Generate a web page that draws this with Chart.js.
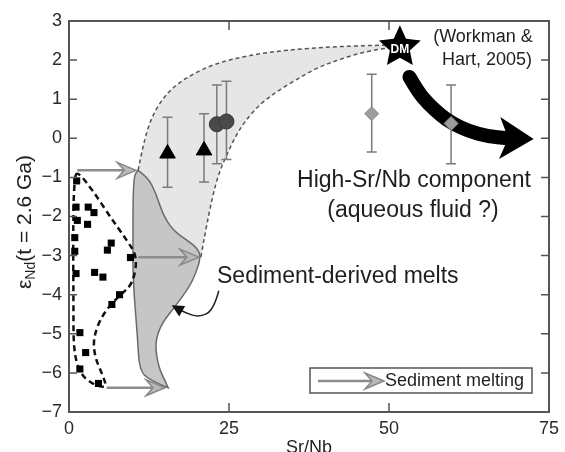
<!DOCTYPE html>
<html>
<head>
<meta charset="utf-8">
<script src="https://cdn.jsdelivr.net/npm/chart.js@4.4.0/dist/chart.umd.min.js"></script>
<style>
html, body { margin: 0; padding: 0; background: #fff; }
canvas { display: block; }
</style>
</head>
<body>
<canvas id="nd-chart" width="565" height="452"></canvas>
<script>
// axis ticks
var xTicks = [0, 25, 50, 75];
var yTicks = [-7, -6, -5, -4, -3, -2, -1, 0, 1, 2, 3];

// sediment samples (black squares)
var sedimentX = [1.2, 1.1, 3.0, 3.9, 1.3, 2.9, 0.9, 6.6, 6.0, 0.9, 9.6, 1.1, 4.0, 5.3, 7.9, 6.7, 1.7, 2.6, 1.7, 4.6];
var sedimentY = [-1.09, -1.76, -1.76, -1.9, -2.1, -2.2, -2.54, -2.68, -2.86, -2.89, -3.05, -3.46, -3.43, -3.55, -4.0, -4.25, -4.97, -5.48, -5.9, -6.27];

// basalt groups with error bars
var triangleX = [15.4, 21.1];
var triangleY = [-0.39, -0.31];
var triangleHi = [0.54, 0.63];
var triangleLo = [-1.25, -1.12];

var circleX = [23.1, 24.6];
var circleY = [0.36, 0.43];
var circleHi = [1.36, 1.46];
var circleLo = [-0.65, -0.54];

var diamondX = [47.3, 59.7];
var diamondY = [0.63, 0.38];
var diamondHi = [1.64, 1.36];
var diamondLo = [-0.35, -0.65];

// depleted mantle end member
var dmPoint = [51.7, 2.33];

// mixing envelope (dashed)
var upperEnvelope = [[10.8, -0.82], [11.6, -0.15], [12.7, 0.45], [14.2, 0.92], [16.2, 1.3], [19, 1.62], [23, 1.92], [28, 2.12], [34, 2.26], [41, 2.34], [48, 2.38], [51, 2.38]];
var lowerEnvelope = [[20.6, -3.04], [21.3, -2.4], [22.4, -1.5], [23.4, -0.9], [24.5, -0.48], [26, 0.05], [27.6, 0.46], [30, 0.9], [32.8, 1.23], [36, 1.55], [39, 1.82], [42, 2.0], [45.2, 2.17], [48.5, 2.28], [51, 2.33]];

// sediment-derived melt field
var meltRightEdge = [[10.8, -0.82], [12.3, -0.99], [13.6, -1.41], [14.6, -1.93], [16.2, -2.35], [18.5, -2.61], [20.1, -2.82], [20.6, -3.04], [19.8, -3.46], [18.8, -3.8], [16.6, -4.3], [14.4, -4.75], [13.4, -5.25], [14.0, -5.85], [15.0, -6.2], [15.5, -6.38]];
var meltLeftEdge = [[15.5, -6.38], [12.6, -6.19], [11.0, -5.93], [10.7, -5.08], [10.2, -4.06], [10.0, -3.38], [10.0, -3.1], [10.0, -0.99], [10.8, -0.82]];

// sediment field outline
var sedimentOutline = [[1.2, -0.82], [3.7, -1.33], [6.4, -2.0], [9.0, -2.6], [10.7, -3.03], [10.0, -3.72], [7.9, -4.02], [5.3, -4.48], [3.8, -5.08], [4.0, -5.59], [5.6, -6.19], [5.8, -6.38], [3.8, -6.3], [1.7, -6.02], [0.7, -5.42], [0.7, -4.23], [0.65, -2.86], [0.7, -1.59], [0.9, -1.07]];

// sediment melting arrows [x0, x1, y]
var meltingArrows = [[1.3, 10.5, -0.82], [10.8, 20.3, -3.04], [5.9, 15.0, -6.38]];

// high-Sr/Nb trend arrow
var fluidArrow = [[53.2, 1.57], [54.5, 1.2], [56.1, 0.89], [58, 0.6], [59.7, 0.4], [62.5, 0.18], [65.4, 0.05], [68.5, 0.0]];
var fluidArrowTip = [72.6, -0.02];

// label pointer
var pointerLine = [[23.4, -3.9], [22.6, -4.4], [20.3, -4.58], [18, -4.45], [16.6, -4.32]];

var FONT = '"Liberation Sans", Arial, sans-serif';

function toPx(chart, p) {
    return [chart.scales.x.getPixelForValue(p[0]), chart.scales.y.getPixelForValue(p[1])];
}

function smoothPath(ctx, pts, join) {
    if (join) ctx.lineTo(pts[0][0], pts[0][1]);
    else ctx.moveTo(pts[0][0], pts[0][1]);
    for (var i = 1; i < pts.length - 1; i++) {
        var mx = (pts[i][0] + pts[i + 1][0]) / 2;
        var my = (pts[i][1] + pts[i + 1][1]) / 2;
        ctx.quadraticCurveTo(pts[i][0], pts[i][1], mx, my);
    }
    var last = pts[pts.length - 1];
    ctx.lineTo(last[0], last[1]);
}

function closedSmooth(ctx, pts) {
    var n = pts.length;
    ctx.moveTo((pts[n - 1][0] + pts[0][0]) / 2, (pts[n - 1][1] + pts[0][1]) / 2);
    for (var i = 0; i < n; i++) {
        var nx = pts[(i + 1) % n];
        ctx.quadraticCurveTo(pts[i][0], pts[i][1], (pts[i][0] + nx[0]) / 2, (pts[i][1] + nx[1]) / 2);
    }
    ctx.closePath();
}

function greyArrow(ctx, x0, x1, y) {
    ctx.save();
    ctx.strokeStyle = "#8c8c8c";
    ctx.lineWidth = 2.5;
    ctx.beginPath();
    ctx.moveTo(x0, y);
    ctx.lineTo(x1 - 10, y);
    ctx.stroke();
    ctx.beginPath();
    ctx.moveTo(x1, y);
    ctx.lineTo(x1 - 19, y - 8);
    ctx.lineTo(x1 - 12, y);
    ctx.lineTo(x1 - 19, y + 8);
    ctx.closePath();
    ctx.fillStyle = "#b8b8b8";
    ctx.fill();
    ctx.lineWidth = 1.5;
    ctx.strokeStyle = "#888";
    ctx.stroke();
    ctx.restore();
}

function drawErrorBars(chart, xs, ys, his, los) {
    var ctx = chart.ctx;
    ctx.save();
    ctx.strokeStyle = "#7a7a7a";
    ctx.lineWidth = 1.5;
    for (var i = 0; i < xs.length; i++) {
        var x = chart.scales.x.getPixelForValue(xs[i]);
        var yHi = chart.scales.y.getPixelForValue(his[i]);
        var yLo = chart.scales.y.getPixelForValue(los[i]);
        ctx.beginPath();
        ctx.moveTo(x, yHi); ctx.lineTo(x, yLo);
        ctx.moveTo(x - 5, yHi); ctx.lineTo(x + 5, yHi);
        ctx.moveTo(x - 5, yLo); ctx.lineTo(x + 5, yLo);
        ctx.stroke();
    }
    ctx.restore();
}

var backgroundShapes = {
    id: "backgroundShapes",
    beforeDatasetsDraw: function (chart) {
        var ctx = chart.ctx;
        var P = function (p) { return toPx(chart, p); };
        var area = chart.chartArea;
        ctx.save();
        ctx.beginPath();
        ctx.rect(area.left, area.top, area.right - area.left, area.bottom - area.top);
        ctx.clip();

        // light grey mixing field
        ctx.beginPath();
        smoothPath(ctx, upperEnvelope.map(P), false);
        smoothPath(ctx, lowerEnvelope.slice().reverse().map(P), true);
        smoothPath(ctx, meltRightEdge.slice(0, 8).reverse().map(P), true);
        ctx.closePath();
        ctx.fillStyle = "#e6e6e6";
        ctx.fill();

        // darker melt field
        ctx.beginPath();
        smoothPath(ctx, meltRightEdge.map(P), false);
        smoothPath(ctx, meltLeftEdge.map(P), true);
        ctx.closePath();
        ctx.fillStyle = "#c6c6c6";
        ctx.fill();
        ctx.strokeStyle = "#6a6a6a";
        ctx.lineWidth = 1.5;
        ctx.stroke();

        // dashed envelope curves
        ctx.setLineDash([4, 3]);
        ctx.strokeStyle = "#555";
        ctx.lineWidth = 1.5;
        ctx.beginPath();
        smoothPath(ctx, upperEnvelope.map(P), false);
        ctx.stroke();
        ctx.beginPath();
        smoothPath(ctx, lowerEnvelope.map(P), false);
        ctx.stroke();

        // sediment field dashed outline
        ctx.setLineDash([6, 4]);
        ctx.strokeStyle = "#111";
        ctx.lineWidth = 2.5;
        ctx.beginPath();
        closedSmooth(ctx, sedimentOutline.map(P));
        ctx.stroke();
        ctx.setLineDash([]);

        // sediment melting arrows
        meltingArrows.forEach(function (a) {
            var p0 = P([a[0], a[2]]);
            var p1 = P([a[1], a[2]]);
            greyArrow(ctx, p0[0], p1[0], p0[1]);
        });

        // error bars
        drawErrorBars(chart, triangleX, triangleY, triangleHi, triangleLo);
        drawErrorBars(chart, circleX, circleY, circleHi, circleLo);
        drawErrorBars(chart, diamondX, diamondY, diamondHi, diamondLo);

        // thick trend arrow
        var shaft = fluidArrow.map(P);
        var tip = P(fluidArrowTip);
        var last = shaft[shaft.length - 1];
        var dx = tip[0] - last[0], dy = tip[1] - last[1];
        var len = Math.sqrt(dx * dx + dy * dy);
        dx /= len; dy /= len;
        var L = 34, W = 21;
        var bx = tip[0] - L * dx, by = tip[1] - L * dy;
        ctx.strokeStyle = "#000";
        ctx.lineWidth = 14;
        ctx.lineCap = "round";
        ctx.beginPath();
        smoothPath(ctx, shaft, false);
        ctx.lineTo(tip[0] - 22 * dx, tip[1] - 22 * dy);
        ctx.stroke();
        ctx.lineCap = "butt";
        ctx.beginPath();
        ctx.moveTo(tip[0], tip[1]);
        ctx.lineTo(bx - W * dy, by + W * dx);
        ctx.lineTo(tip[0] - 0.75 * L * dx, tip[1] - 0.75 * L * dy);
        ctx.lineTo(bx + W * dy, by - W * dx);
        ctx.closePath();
        ctx.fillStyle = "#000";
        ctx.fill();

        // pointer to melt field
        var pl = pointerLine.map(P);
        ctx.strokeStyle = "#222";
        ctx.lineWidth = 1.5;
        ctx.beginPath();
        smoothPath(ctx, pl, false);
        ctx.stroke();
        var pe = pl[pl.length - 1], pp = pl[pl.length - 2];
        var ax = pe[0] - pp[0], ay = pe[1] - pp[1];
        var al = Math.sqrt(ax * ax + ay * ay);
        ax /= al; ay /= al;
        ctx.beginPath();
        ctx.moveTo(pe[0] + 4 * ax, pe[1] + 4 * ay);
        ctx.lineTo(pe[0] - 8 * ax - 6 * ay, pe[1] - 8 * ay + 6 * ax);
        ctx.lineTo(pe[0] - 8 * ax + 6 * ay, pe[1] - 8 * ay - 6 * ax);
        ctx.closePath();
        ctx.fillStyle = "#111";
        ctx.fill();

        ctx.restore();
    },
    afterDatasetsDraw: function (chart) {
        var ctx = chart.ctx;
        var area = chart.chartArea;
        var xs = chart.scales.x, ys = chart.scales.y;
        ctx.save();

        // DM star
        var c = toPx(chart, dmPoint);
        ctx.beginPath();
        for (var i = 0; i < 10; i++) {
            var r = i % 2 === 0 ? 22 : 10.5;
            var ang = -Math.PI / 2 + i * Math.PI / 5;
            var sx = c[0] + r * Math.cos(ang), sy = c[1] + r * Math.sin(ang);
            if (i === 0) ctx.moveTo(sx, sy); else ctx.lineTo(sx, sy);
        }
        ctx.closePath();
        ctx.fillStyle = "#000";
        ctx.fill();
        ctx.fillStyle = "#fff";
        ctx.font = "bold 12px " + FONT;
        ctx.textAlign = "center";
        ctx.textBaseline = "middle";
        ctx.fillText("DM", c[0], c[1] + 2);

        // annotations
        ctx.fillStyle = "#1e1e1e";
        ctx.font = "18px " + FONT;
        ctx.fillText("(Workman &", 483, 37);
        ctx.fillText("Hart, 2005)", 487, 60);
        ctx.font = "23px " + FONT;
        ctx.fillText("High-Sr/Nb component", 414, 181);
        ctx.fillText("(aqueous fluid ?)", 413, 211);
        ctx.textAlign = "left";
        ctx.fillText("Sediment-derived melts", 217, 277);

        // legend box
        ctx.fillStyle = "#fff";
        ctx.fillRect(310, 368, 222, 25);
        ctx.strokeStyle = "#555";
        ctx.lineWidth = 1.5;
        ctx.strokeRect(310, 368, 222, 25);
        greyArrow(ctx, 318, 384, 381);
        ctx.fillStyle = "#1e1e1e";
        ctx.font = "18px " + FONT;
        ctx.textAlign = "left";
        ctx.fillText("Sediment melting", 385, 381);

        // frame and inward ticks
        ctx.strokeStyle = "#555";
        ctx.lineWidth = 2;
        ctx.strokeRect(area.left, area.top, area.right - area.left, area.bottom - area.top);
        ctx.lineWidth = 1.5;
        ctx.beginPath();
        yTicks.forEach(function (v) {
            var y = ys.getPixelForValue(v);
            ctx.moveTo(area.left, y); ctx.lineTo(area.left + 8, y);
            ctx.moveTo(area.right, y); ctx.lineTo(area.right - 8, y);
        });
        xTicks.slice(1, -1).forEach(function (v) {
            var x = xs.getPixelForValue(v);
            ctx.moveTo(x, area.bottom); ctx.lineTo(x, area.bottom - 9);
            ctx.moveTo(x, area.top); ctx.lineTo(x, area.top + 9);
        });
        ctx.stroke();

        // y title with subscript
        ctx.translate(25, 222);
        ctx.rotate(-Math.PI / 2);
        ctx.fillStyle = "#1e1e1e";
        ctx.textAlign = "left";
        ctx.textBaseline = "middle";
        var big = "21px " + FONT, small = "14px " + FONT;
        ctx.font = big;
        var w1 = ctx.measureText("\u03b5").width;
        var w3 = ctx.measureText("(t = 2.6 Ga)").width;
        ctx.font = small;
        var w2 = ctx.measureText("Nd").width;
        var x0 = -(w1 + w2 + w3) / 2;
        ctx.font = big;
        ctx.fillText("\u03b5", x0, 0);
        ctx.font = small;
        ctx.fillText("Nd", x0 + w1, 6);
        ctx.font = big;
        ctx.fillText("(t = 2.6 Ga)", x0 + w1 + w2, 0);

        ctx.restore();
    }
};

function zipPoints(xs, ys) {
    return xs.map(function (x, i) { return { x: x, y: ys[i] }; });
}

var ndChart = new Chart(document.getElementById("nd-chart").getContext("2d"), {
    type: "scatter",
    data: {
        datasets: [
            {
                label: "Sediments",
                data: zipPoints(sedimentX, sedimentY),
                pointStyle: "rect",
                pointRadius: 5,
                backgroundColor: "#000",
                borderColor: "#000",
                borderWidth: 0,
            },
            {
                label: "Triangles",
                data: zipPoints(triangleX, triangleY),
                pointStyle: "triangle",
                pointRadius: 9,
                backgroundColor: "#000",
                borderColor: "#000",
                borderWidth: 1,
            },
            {
                label: "Circles",
                data: zipPoints(circleX, circleY),
                pointStyle: "circle",
                pointRadius: 7.5,
                backgroundColor: "#4a4a4a",
                borderColor: "#333",
                borderWidth: 1,
            },
            {
                label: "Diamonds",
                data: zipPoints(diamondX, diamondY),
                pointStyle: "rectRot",
                pointRadius: 7,
                backgroundColor: "#9c9c9c",
                borderColor: "#8a8a8a",
                borderWidth: 1,
            },
        ],
    },
    options: {
        responsive: false,
        animation: false,
        layout: { padding: { top: 21, right: 13, left: 0, bottom: 0 } },
        plugins: {
            legend: { display: false },
            tooltip: { enabled: false },
        },
        scales: {
            x: {
                type: "linear",
                min: 0,
                max: 75,
                afterBuildTicks: function (s) {
                    s.ticks = xTicks.map(function (v) { return { value: v }; });
                },
                afterFit: function (s) { s.height = 40; },
                grid: { display: false, drawTicks: false },
                border: { display: false },
                ticks: {
                    font: { family: FONT, size: 18 },
                    color: "#2a2a2a",
                    padding: 6,
                    maxRotation: 0,
                },
                title: {
                    display: true,
                    text: "Sr/Nb",
                    font: { family: FONT, size: 18, lineHeight: 0.4 },
                    color: "#1e1e1e",
                    padding: { top: 0, bottom: 0 },
                },
            },
            y: {
                type: "linear",
                min: -7,
                max: 3,
                afterBuildTicks: function (s) {
                    s.ticks = yTicks.map(function (v) { return { value: v }; });
                },
                afterFit: function (s) { s.width = 69; },
                grid: { display: false, drawTicks: false },
                border: { display: false },
                ticks: {
                    font: { family: FONT, size: 18 },
                    color: "#2a2a2a",
                    padding: 7,
                    callback: function (v) { return v < 0 ? "\u2212" + Math.abs(v) : String(v); },
                },
            },
        },
    },
    plugins: [backgroundShapes],
});
</script>
</body>
</html>
